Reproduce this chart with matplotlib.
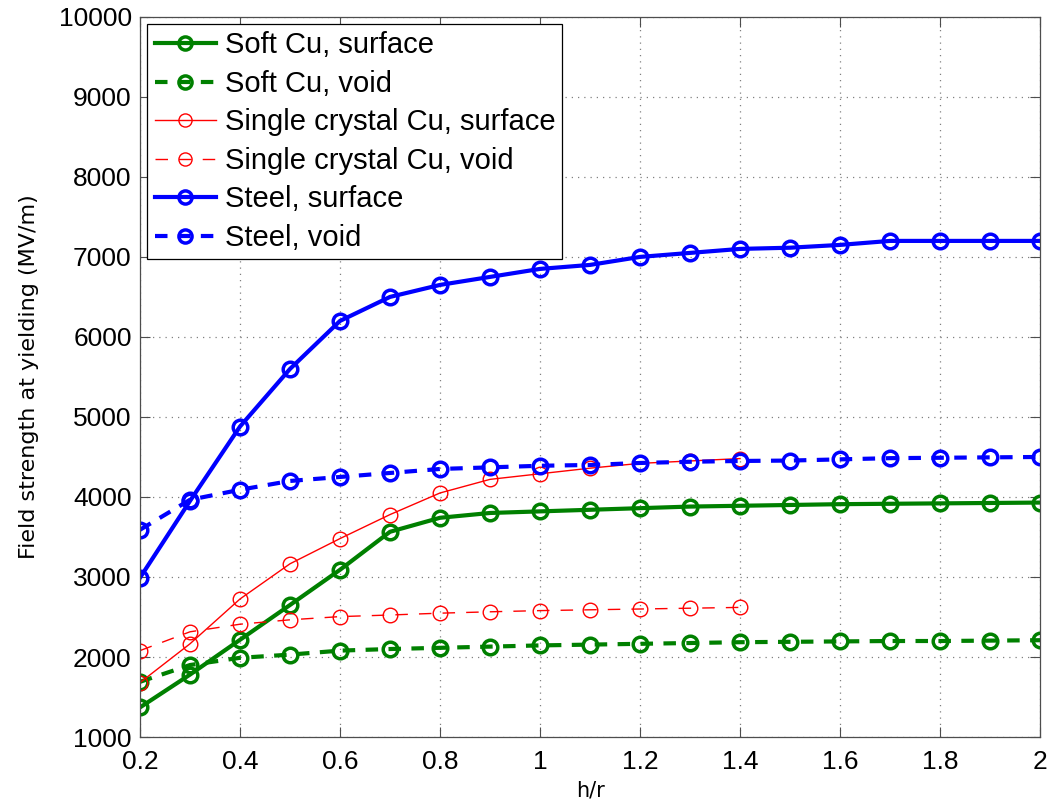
import numpy as np
import matplotlib as mpl
mpl.use('Agg')
import matplotlib.pyplot as plt

plt.rcParams['font.family'] = ['Liberation Sans', 'DejaVu Sans']

# h/r values
hr = [0.2, 0.3, 0.4, 0.5, 0.6, 0.7, 0.8, 0.9, 1.0, 1.1,
      1.2, 1.3, 1.4, 1.5, 1.6, 1.7, 1.8, 1.9, 2.0]
hr_sc = hr[:13]

soft_surface = [1370, 1780, 2215, 2650, 3090, 3565, 3740, 3800, 3820, 3840,
                3860, 3880, 3890, 3900, 3910, 3915, 3920, 3925, 3930]
soft_void = [1690, 1900, 1990, 2030, 2080, 2100, 2115, 2130, 2145, 2155,
             2165, 2175, 2185, 2190, 2195, 2200, 2200, 2205, 2210]
sc_surface = [1680, 2165, 2725, 3165, 3480, 3780, 4050, 4220, 4290, 4360,
              4420, 4450, 4480]
sc_void = [2080, 2315, 2410, 2465, 2505, 2525, 2548, 2565, 2580, 2590,
           2600, 2610, 2620]
steel_surface = [2990, 3950, 4880, 5600, 6200, 6500, 6650, 6750, 6850, 6900,
                 7000, 7050, 7100, 7115, 7150, 7200, 7200, 7200, 7200]
steel_void = [3590, 3965, 4090, 4200, 4250, 4300, 4350, 4370, 4390, 4400,
              4425, 4440, 4450, 4455, 4470, 4485, 4490, 4495, 4500]

green = (0, 0.5, 0)
fig = plt.figure(figsize=(10.54, 8.02), dpi=100)
ax = fig.add_axes([0.1328, 0.081, 0.854, 0.898])

thick = dict(lw=3, marker='o', ms=10.5, mfc='none', mew=2.5)
thin = dict(lw=1, marker='o', ms=10.5, mfc='none', mew=1)

ax.plot(hr, soft_surface, color=green, label='Soft Cu, surface', **thick)
ax.plot(hr, soft_void, color=green, ls='--', dashes=(3, 2.5),
        label='Soft Cu, void', **thick)
ax.plot(hr_sc, sc_surface, color='red', label='Single crystal Cu, surface', **thin)
ax.plot(hr_sc, sc_void, color='red', ls='--', dashes=(9, 8),
        label='Single crystal Cu, void', **thin)
ax.plot(hr, steel_surface, color='blue', label='Steel, surface', **thick)
ax.plot(hr, steel_void, color='blue', ls='--', dashes=(3, 2.5),
        label='Steel, void', **thick)

ax.set_xlim(0.2, 2)
ax.set_ylim(1000, 10000)
ax.set_xticks(np.arange(0.2, 2.01, 0.2))
ax.set_xticklabels(['0.2', '0.4', '0.6', '0.8', '1', '1.2', '1.4', '1.6', '1.8', '2'])
ax.set_yticks(np.arange(1000, 10001, 1000))
ax.tick_params(direction='in', top=True, right=True, labelsize=19, length=7,
               width=0.8, color='0.3')
ax.tick_params(axis='x', pad=9)
ax.tick_params(axis='y', pad=6)
ax.grid(True, ls=(0, (1, 4)), color='0.5', lw=0.9)
for s in ax.spines.values():
    s.set_linewidth(0.9)
    s.set_color('0.3')

ax.set_xlabel('h/r', fontsize=15, labelpad=5, family='DejaVu Sans')
ax.set_ylabel('Field strength at yielding (MV/m)', fontsize=16, labelpad=14,
              family='DejaVu Sans')

leg = ax.legend(loc='upper left', fontsize=21, fancybox=False, framealpha=1,
                edgecolor='black', borderaxespad=0.25, handlelength=2.1,
                handletextpad=0.3, labelspacing=0.36, borderpad=0.25,
                markerscale=0.9)
leg.get_frame().set_linewidth(0.9)

plt.savefig('out.png')
